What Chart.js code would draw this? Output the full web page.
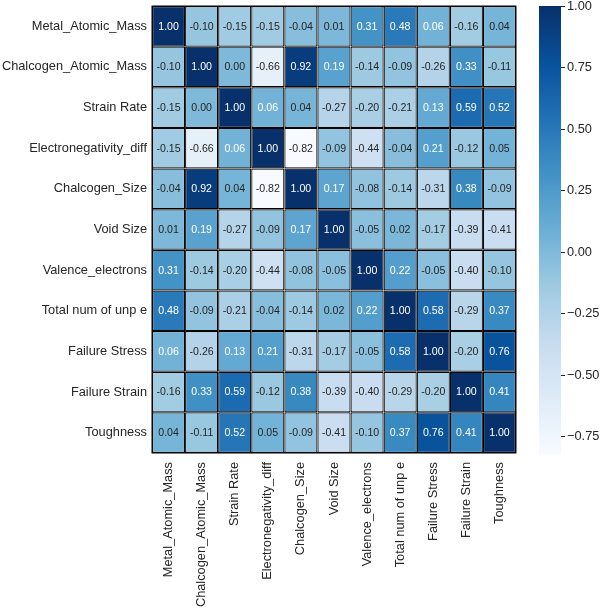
<!DOCTYPE html>
<html>
<head>
<meta charset="utf-8">
<script src="https://cdn.jsdelivr.net/npm/chart.js@4"></script>
<style>
  html, body { margin: 0; padding: 0; background: #ffffff; }
  #wrap { position: relative; width: 600px; height: 609px; }
  #main { position: absolute; left: 0; top: 0; }
  #cbar { position: absolute; left: 530px; top: 0; }
</style>
</head>
<body>
<div id="wrap">
  <canvas id="main" width="600" height="609"></canvas>
  <canvas id="cbar" width="70" height="609"></canvas>
</div>
<script>
// ---------- DATA ----------
const labels = ["Metal_Atomic_Mass", "Chalcogen_Atomic_Mass", "Strain Rate", "Electronegativity_diff",
  "Chalcogen_Size", "Void Size", "Valence_electrons", "Total num of unp e", "Failure Stress",
  "Failure Strain", "Toughness"];

const rowMetalAtomicMass     = [ 1.00, -0.10, -0.15, -0.15, -0.04,  0.01,  0.31,  0.48,  0.06, -0.16,  0.04];
const rowChalcogenAtomicMass = [-0.10,  1.00,  0.00, -0.66,  0.92,  0.19, -0.14, -0.09, -0.26,  0.33, -0.11];
const rowStrainRate          = [-0.15,  0.00,  1.00,  0.06,  0.04, -0.27, -0.20, -0.21,  0.13,  0.59,  0.52];
const rowElectronegDiff      = [-0.15, -0.66,  0.06,  1.00, -0.82, -0.09, -0.44, -0.04,  0.21, -0.12,  0.05];
const rowChalcogenSize       = [-0.04,  0.92,  0.04, -0.82,  1.00,  0.17, -0.08, -0.14, -0.31,  0.38, -0.09];
const rowVoidSize            = [ 0.01,  0.19, -0.27, -0.09,  0.17,  1.00, -0.05,  0.02, -0.17, -0.39, -0.41];
const rowValenceElectrons    = [ 0.31, -0.14, -0.20, -0.44, -0.08, -0.05,  1.00,  0.22, -0.05, -0.40, -0.10];
const rowTotalUnpE           = [ 0.48, -0.09, -0.21, -0.04, -0.14,  0.02,  0.22,  1.00,  0.58, -0.29,  0.37];
const rowFailureStress       = [ 0.06, -0.26,  0.13,  0.21, -0.31, -0.17, -0.05,  0.58,  1.00, -0.20,  0.76];
const rowFailureStrain       = [-0.16,  0.33,  0.59, -0.12,  0.38, -0.39, -0.40, -0.29, -0.20,  1.00,  0.41];
const rowToughness           = [ 0.04, -0.11,  0.52,  0.05, -0.09, -0.41, -0.10,  0.37,  0.76,  0.41,  1.00];

const rows = [rowMetalAtomicMass, rowChalcogenAtomicMass, rowStrainRate, rowElectronegDiff,
  rowChalcogenSize, rowVoidSize, rowValenceElectrons, rowTotalUnpE, rowFailureStress,
  rowFailureStrain, rowToughness];

const colorbarTicks = [-0.75, -0.50, -0.25, 0.00, 0.25, 0.50, 0.75, 1.00];
const vmin = -0.82, vmax = 1.00;

// ---------- COLORMAP (matplotlib Blues) ----------
const blues = ["#f7fbff", "#deebf7", "#c6dbef", "#9ecae1", "#6baed6", "#4292c6", "#2171b5", "#08519c", "#08306b"];
function hexToRgb(h) { return [parseInt(h.slice(1,3),16), parseInt(h.slice(3,5),16), parseInt(h.slice(5,7),16)]; }
const bluesRgb = blues.map(hexToRgb);
function bluesAt(t) {
  t = Math.max(0, Math.min(1, t));
  const p = t * (bluesRgb.length - 1);
  const i = Math.min(Math.floor(p), bluesRgb.length - 2);
  const f = p - i;
  const a = bluesRgb[i], b = bluesRgb[i+1];
  return [a[0]+(b[0]-a[0])*f, a[1]+(b[1]-a[1])*f, a[2]+(b[2]-a[2])*f];
}
function colorFor(v) { return bluesAt((v - vmin) / (vmax - vmin)); }
function rgbStr(c) { return `rgb(${Math.round(c[0])},${Math.round(c[1])},${Math.round(c[2])})`; }
function relLum(c) {
  const l = c.map(x => { x /= 255; return x <= 0.03928 ? x / 12.92 : Math.pow((x + 0.055) / 1.055, 2.4); });
  return 0.2126*l[0] + 0.7152*l[1] + 0.0722*l[2];
}

const textDark = "#262626";
const fontFamily = "'Liberation Sans', Arial, sans-serif";
const lineColor = "#050505";

// ---------- MAIN HEATMAP ----------
const datasets = rows.map((row, r) => ({
  label: labels[r],
  data: row.map(() => [r, r + 1]),
  values: row,
  backgroundColor: row.map(v => rgbStr(colorFor(v))),
  borderColor: lineColor,
  borderWidth: 1.2,
  borderSkipped: false,
  inflateAmount: 0,
  barPercentage: 1.0,
  categoryPercentage: 1.0
}));

const annotatePlugin = {
  id: "annotate",
  afterDatasetsDraw(chart) {
    const ctx = chart.ctx;
    ctx.save();
    ctx.font = `10.6px ${fontFamily}`;
    ctx.textAlign = "center";
    ctx.textBaseline = "middle";
    chart.data.datasets.forEach((ds, di) => {
      const meta = chart.getDatasetMeta(di);
      meta.data.forEach((el, j) => {
        const v = ds.values[j];
        const c = colorFor(v);
        ctx.fillStyle = relLum(c) > 0.408 ? textDark : "#ffffff";
        const cy = (el.y + el.base) / 2;
        ctx.fillText(v.toFixed(2), el.x, cy + 0.5);
      });
    });
    // outer frame
    const a = chart.chartArea;
    ctx.strokeStyle = lineColor;
    ctx.lineWidth = 1.5;
    ctx.strokeRect(a.left + 0.25, a.top + 0.25, a.right - a.left - 0.5, a.bottom - a.top - 0.5);
    ctx.restore();
  }
};

new Chart(document.getElementById("main"), {
  type: "bar",
  data: { labels: labels, datasets: datasets },
  options: {
    responsive: false,
    devicePixelRatio: 1,
    animation: false,
    layout: { padding: { top: 6, right: 84, left: 0, bottom: 0 } },
    plugins: { legend: { display: false }, tooltip: { enabled: false } },
    scales: {
      x: {
        stacked: true,
        grid: { display: false, drawTicks: false },
        border: { display: false },
        ticks: {
          autoSkip: false, maxRotation: 90, minRotation: 90, padding: 9,
          color: textDark, font: { family: fontFamily, size: 12.8 }
        },
        afterFit(scale) { scale.height = 156; scale.paddingLeft = 0; scale.paddingRight = 0; }
      },
      y: {
        type: "linear",
        stacked: false,
        min: 0, max: 11, reverse: true,
        grid: { display: false, drawTicks: false },
        border: { display: false },
        afterBuildTicks(scale) { scale.ticks = labels.map((_, i) => ({ value: i + 0.5 })); },
        ticks: {
          padding: 5, color: textDark, font: { family: fontFamily, size: 12.8 },
          callback: (value, index) => labels[index]
        },
        afterFit(scale) { scale.width = 152; scale.paddingTop = 0; scale.paddingBottom = 0; }
      }
    }
  },
  plugins: [annotatePlugin]
});

// ---------- COLORBAR ----------
new Chart(document.getElementById("cbar"), {
  type: "bar",
  data: {
    labels: ["cb"],
    datasets: [{
      data: [[vmin, vmax]],
      backgroundColor(context) {
        const chart = context.chart;
        const ys = chart.scales.y;
        if (!chart.chartArea || !ys) return blues[4];
        const g = chart.ctx.createLinearGradient(0, ys.getPixelForValue(vmin), 0, ys.getPixelForValue(vmax));
        blues.forEach((c, i) => g.addColorStop(i / (blues.length - 1), c));
        return g;
      },
      borderWidth: 0,
      inflateAmount: 0,
      barPercentage: 1.0,
      categoryPercentage: 1.0
    }]
  },
  options: {
    responsive: false,
    devicePixelRatio: 1,
    animation: false,
    layout: { padding: { top: 6, left: 9, right: 0, bottom: 155 } },
    plugins: { legend: { display: false }, tooltip: { enabled: false } },
    scales: {
      x: { display: false },
      y: {
        position: "right",
        min: vmin, max: vmax,
        border: { display: false },
        grid: { display: true, drawOnChartArea: false, drawTicks: true, tickLength: 4, tickColor: textDark, tickWidth: 1 },
        afterBuildTicks(scale) { scale.ticks = colorbarTicks.map(v => ({ value: v })); },
        ticks: {
          padding: 2, color: textDark, font: { family: fontFamily, size: 12.8 },
          callback: (value) => (value < 0 ? "\u2212" + Math.abs(value).toFixed(2) : value.toFixed(2))
        },
        afterFit(scale) { scale.width = 39; scale.paddingTop = 0; scale.paddingBottom = 0; }
      }
    }
  }
});
</script>
</body>
</html>
